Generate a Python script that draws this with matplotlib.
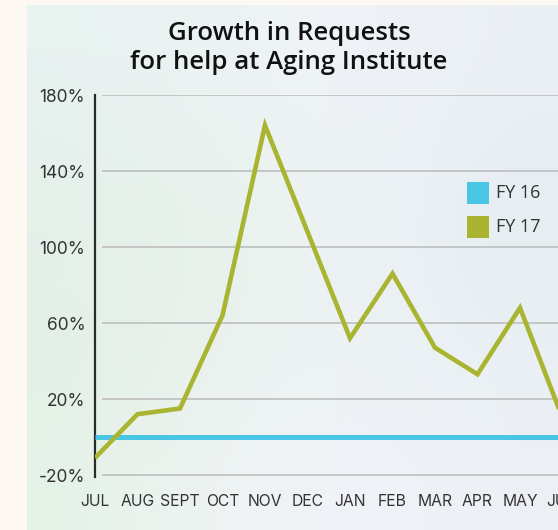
import matplotlib
matplotlib.use("Agg")
import matplotlib.pyplot as plt
import numpy as np
from matplotlib.patches import Rectangle

months = ["JUL", "AUG", "SEPT", "OCT", "NOV", "DEC", "JAN", "FEB", "MAR", "APR", "MAY", "JUN"]
fy16 = [0, 0, 0, 0, 0, 0, 0, 0, 0, 0, 0, 0]
fy17 = [-11, 12, 15, 64, 164, 108, 52, 86, 47, 33, 68, 10]
yticks = [-20, 20, 60, 100, 140, 180]
ytick_labels = ["-20%", "20%", "60%", "100%", "140%", "180%"]
series_names = ["FY 16", "FY 17"]
colors = ["#49c6e5", "#a9b531"]

plt.rcParams['font.family'] = ['Inter', 'DejaVu Sans']
txt = "#333333"

W, H = 558, 530
fig = plt.figure(figsize=(W/100, H/100), dpi=100)
fig.patch.set_facecolor('#fdf8f2')

# background panel gradient
bg = fig.add_axes([27/W, 0, 1-27/W, 1-5/H])
bg.set_axis_off()
grid = np.array([
    [[0.91, 0.95, 0.94], [0.93, 0.95, 0.96], [0.94, 0.95, 0.97], [0.92, 0.94, 0.96]],
    [[0.90, 0.94, 0.92], [0.91, 0.95, 0.92], [0.93, 0.95, 0.96], [0.90, 0.93, 0.95]],
    [[0.89, 0.94, 0.90], [0.92, 0.95, 0.93], [0.93, 0.95, 0.96], [0.91, 0.94, 0.95]],
    [[0.90, 0.95, 0.91], [0.94, 0.95, 0.96], [0.94, 0.95, 0.97], [0.93, 0.94, 0.96]],
])
bg.imshow(grid, aspect='auto', interpolation='bicubic', extent=[0, 1, 0, 1])
bg.set_xlim(0, 1); bg.set_ylim(0, 1)

# main axes
px = 42.5
ax = fig.add_axes([95/W, 1-476.9/H, 12*px/W, (476.9-95)/H])
ax.patch.set_alpha(0)
ax.set_xlim(0, 12)
ax.set_ylim(-21, 180)

for yv in yticks:
    ax.axhline(yv, xmin=8/(12*px), xmax=1, color='#c2c2c2', lw=1.3, zorder=1)

x = np.arange(len(months))
ax.plot(x, fy16, color=colors[0], lw=3.6, zorder=3, solid_capstyle='butt')
ax.plot(x, fy17, color=colors[1], lw=3.3, zorder=4, solid_joinstyle='miter', solid_capstyle='butt')

for s in ['top', 'right', 'bottom']:
    ax.spines[s].set_visible(False)
ax.spines['left'].set_color('#2b2b2b')
ax.spines['left'].set_linewidth(1.6)

ax.set_yticks(yticks)
ax.set_yticklabels(ytick_labels, fontsize=12.5, color=txt)
ax.set_xticks(x)
ax.set_xticklabels(months, fontsize=11.3, color=txt)
ax.tick_params(axis='y', length=0, pad=7)
ax.tick_params(axis='x', length=0, pad=12)

# legend
for i, (name, c) in enumerate(zip(series_names, colors)):
    y0 = 182 + i*33.5
    fig.patches.append(Rectangle((467/W, 1-(y0+22)/H), 22/W, 22/H, transform=fig.transFigure,
                                 facecolor=c, edgecolor='none'))
    fig.text(496/W, 1-(y0+11.5)/H, name, fontsize=13, color=txt, ha='left', va='center',
             family=['Open Sans', 'DejaVu Sans'])

fig.text(289/W, 1-48/H, "Growth in Requests\nfor help at Aging Institute",
         ha='center', va='center', fontsize=18.5, color='#111111', linespacing=1.2,
         fontweight='semibold', family=['Open Sans', 'DejaVu Sans'])

fig.savefig("out.png", dpi=100, facecolor=fig.get_facecolor())
